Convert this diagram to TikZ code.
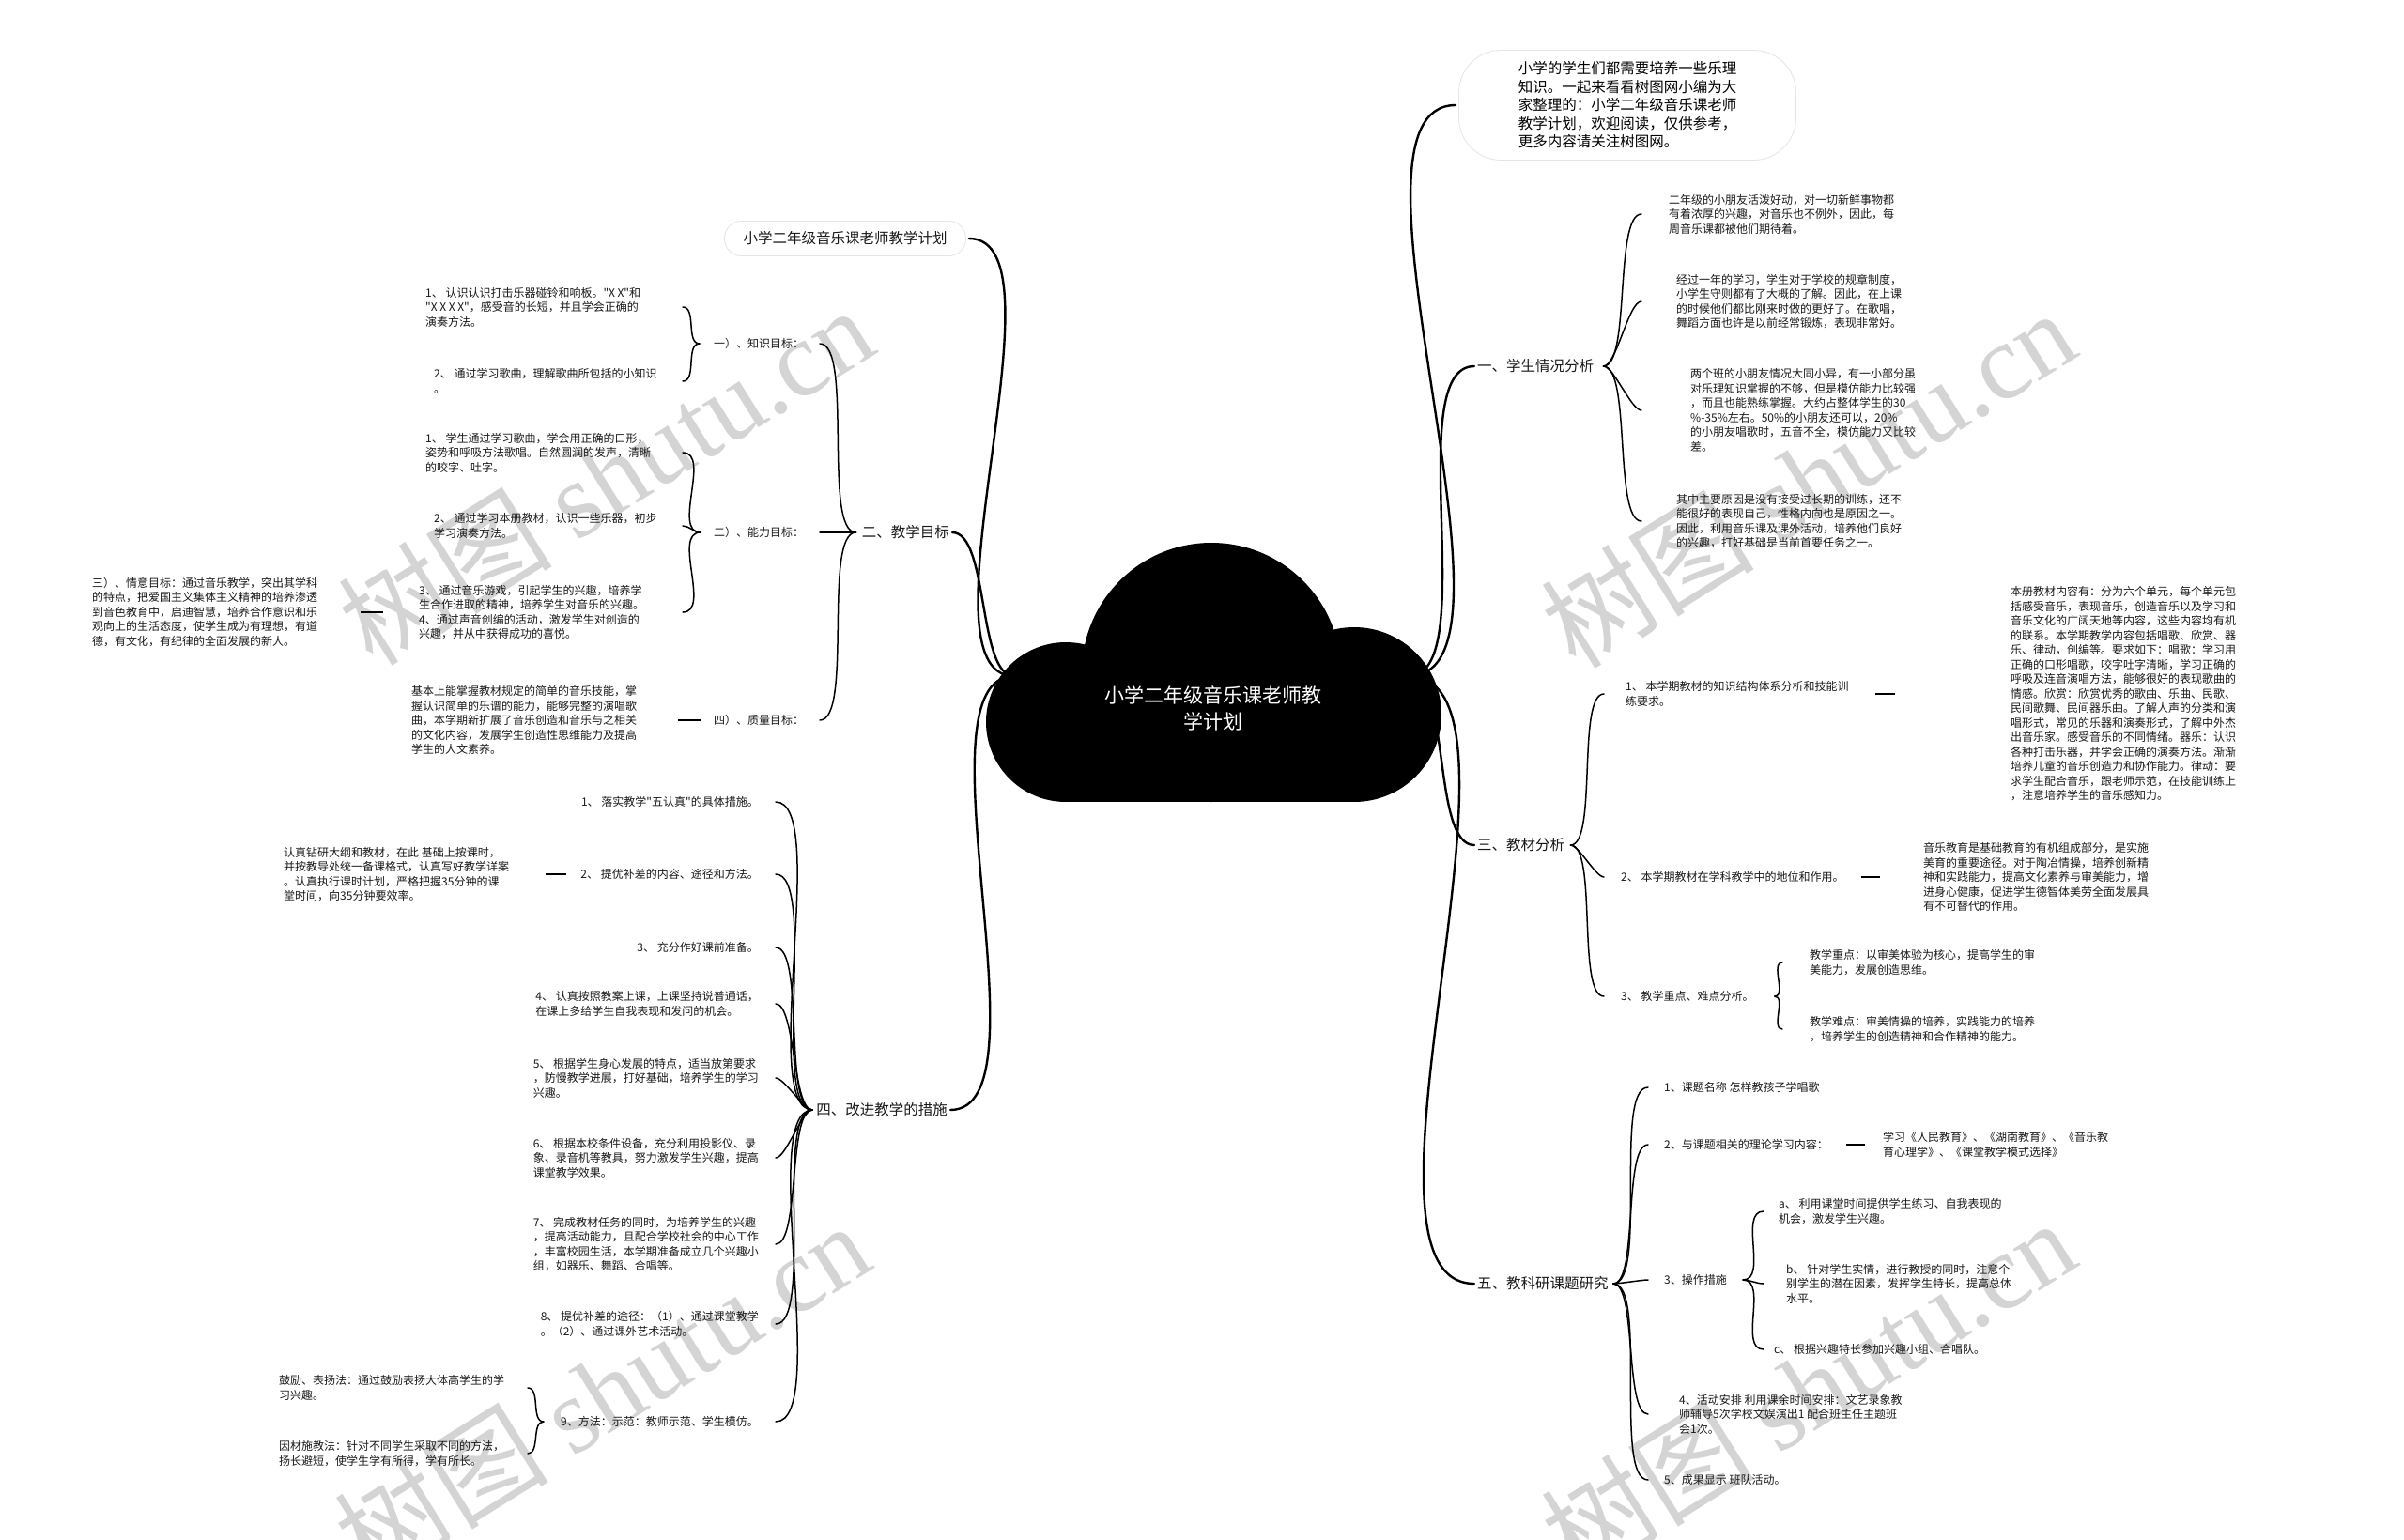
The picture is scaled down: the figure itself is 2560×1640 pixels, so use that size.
\documentclass[tikz,border=0pt]{standalone}
\usepackage{fontspec}
\setmainfont{Noto Sans CJK SC}[Ligatures=TeXOff]
\newfontfamily\wmfont{Liberation Serif}
\usetikzlibrary{calc}

\begin{document}
\begin{tikzpicture}[x=1pt, y=-1pt,
  leaf/.style={font=\fontsize{12}{15.5}\selectfont, align=left, inner sep=0pt, text=black!90},
  topic/.style={font=\fontsize{15.5}{19}\selectfont, inner sep=0pt, text=black!90},
  pill/.style={draw=black!10, line width=0.8pt, fill=white, rounded corners=18pt},
  trunk/.style={line width=2.4pt, line cap=round},
  twig/.style={line width=1.5pt, line cap=round},
  dashline/.style={line width=1.8pt},
  fanR/.style={out=0, in=180, looseness=0.45},
  fanL/.style={out=180, in=0, looseness=0.45},
  braceR/.style={out=0, in=180, looseness=0.9},
  braceL/.style={out=180, in=0, looseness=0.9},
  wm/.style={text=black!17, font=\fontsize{114}{114}\selectfont, rotate=32}]
  \useasboundingbox (0,0) rectangle (2560,1640);
  \fill[white] (0,0) rectangle (2560,1640);

  % Watermarks
  \foreach \x/\y [count=\i] in {645/506, 1925/509, 641/1481, 1925/1478}
    \node[wm] (wm\i) at (\x,\y) {树图 {\wmfont shutu.cn}};

  % Intro
  \node[pill, rounded corners=45pt, minimum width=359pt, minimum height=117pt,
        font=\fontsize{15.5}{19.5}\selectfont, align=left] (intro) at (1733,112)
        {小学的学生们都需要培养一些乐理\\知识。一起来看看树图网小编为大\\家整理的：小学二年级音乐课老师\\教学计划，欢迎阅读，仅供参考，\\更多内容请关注树图网。};

  % Right: students
  \node[topic, anchor=west] (t1) at (1573,390) {一、学生情况分析};
  \node[leaf, anchor=west] (s1a) at (1777,228) {二年级的小朋友活泼好动，对一切新鲜事物都\\有着浓厚的兴趣，对音乐也不例外，因此，每\\周音乐课都被他们期待着。};
  \node[leaf, anchor=west] (s1b) at (1785,321) {经过一年的学习，学生对于学校的规章制度，\\小学生守则都有了大概的了解。因此，在上课\\的时候他们都比刚来时做的更好了。在歌唱，\\舞蹈方面也许是以前经常锻炼，表现非常好。};
  \node[leaf, anchor=west] (s1c) at (1800,437) {两个班的小朋友情况大同小异，有一小部分虽\\对乐理知识掌握的不够，但是模仿能力比较强\\，而且也能熟练掌握。大约占整体学生的30\\\%-35\%左右。50\%的小朋友还可以，20\%\\的小朋友唱歌时，五音不全，模仿能力又比较\\差。};
  \node[leaf, anchor=west] (s1d) at (1785,555) {其中主要原因是没有接受过长期的训练，还不\\能很好的表现自己，性格内向也是原因之一。\\因此，利用音乐课及课外活动，培养他们良好\\的兴趣，打好基础是当前首要任务之一。};

  % Right: material
  \node[topic, anchor=west] (t3) at (1573,900) {三、教材分析};
  \node[leaf, anchor=west] (m1) at (1731,739) {1、 本学期教材的知识结构体系分析和技能训\\练要求。};
  \node[leaf, anchor=west] (m1l) at (2141,739) {本册教材内容有：分为六个单元，每个单元包\\括感受音乐，表现音乐，创造音乐以及学习和\\音乐文化的广阔天地等内容，这些内容均有机\\的联系。本学期教学内容包括唱歌、欣赏、器\\乐、律动，创编等。要求如下：唱歌：学习用\\正确的口形唱歌，咬字吐字清晰，学习正确的\\呼吸及连音演唱方法，能够很好的表现歌曲的\\情感。欣赏：欣赏优秀的歌曲、乐曲、民歌、\\民间歌舞、民间器乐曲。了解人声的分类和演\\唱形式，常见的乐器和演奏形式，了解中外杰\\出音乐家。感受音乐的不同情绪。器乐：认识\\各种打击乐器，并学会正确的演奏方法。渐渐\\培养儿童的音乐创造力和协作能力。律动：要\\求学生配合音乐，跟老师示范，在技能训练上\\，注意培养学生的音乐感知力。};
  \node[leaf, anchor=west] (m2) at (1726,934) {2、 本学期教材在学科教学中的地位和作用。};
  \node[leaf, anchor=west] (m2l) at (2048,934) {音乐教育是基础教育的有机组成部分，是实施\\美育的重要途径。对于陶冶情操，培养创新精\\神和实践能力，提高文化素养与审美能力，增\\进身心健康，促进学生德智体美劳全面发展具\\有不可替代的作用。};
  \node[leaf, anchor=west] (m3) at (1726,1061) {3、 教学重点、难点分析。};
  \node[leaf, anchor=west] (m3a) at (1927,1025) {教学重点：以审美体验为核心，提高学生的审\\美能力，发展创造思维。};
  \node[leaf, anchor=west] (m3b) at (1927,1096) {教学难点：审美情操的培养，实践能力的培养\\，培养学生的创造精神和合作精神的能力。};

  % Right: research
  \node[topic, anchor=west] (t5) at (1573,1367) {五、教科研课题研究};
  \node[leaf, anchor=west] (k1) at (1772,1158) {1、课题名称 怎样教孩子学唱歌};
  \node[leaf, anchor=west] (k2) at (1772,1219) {2、与课题相关的理论学习内容：};
  \node[leaf, anchor=west] (k2l) at (2005,1219) {学习《人民教育》、《湖南教育》、《音乐教\\育心理学》、《课堂教学模式选择》};
  \node[leaf, anchor=west] (k3) at (1772,1363) {3、操作措施};
  \node[leaf, anchor=west] (k3a) at (1894,1290) {a、 利用课堂时间提供学生练习、自我表现的\\机会，激发学生兴趣。};
  \node[leaf, anchor=west] (k3b) at (1902,1367) {b、 针对学生实情，进行教授的同时，注意个\\别学生的潜在因素，发挥学生特长，提高总体\\水平。};
  \node[leaf, anchor=west] (k3c) at (1889,1437) {c、 根据兴趣特长参加兴趣小组、合唱队。};
  \node[leaf, anchor=west] (k4) at (1788,1506) {4、活动安排 利用课余时间安排：文艺录象教\\师辅导5次学校文娱演出1 配合班主任主题班\\会1次。};
  \node[leaf, anchor=west] (k5) at (1772,1576) {5、成果显示 班队活动。};

  % Left: title
  \node[pill, topic, minimum width=257pt, minimum height=37pt] (title) at (900,254) {小学二年级音乐课老师教学计划};

  % Left: goals
  \node[topic, anchor=east] (t2) at (1011,567) {二、教学目标};
  \node[leaf, anchor=west] (g1) at (760,366) {一）、知识目标：};
  \node[leaf, anchor=west] (g2) at (760,567) {二）、能力目标：};
  \node[leaf, anchor=west] (g4) at (760,767) {四）、质量目标：};
  \node[leaf, anchor=west] (g1a) at (453,327) {1、 认识认识打击乐器碰铃和响板。"X X"和\\"X X X X"，感受音的长短，并且学会正确的\\演奏方法。};
  \node[leaf, anchor=west] (g1b) at (462,406) {2、 通过学习歌曲，理解歌曲所包括的小知识\\。};
  \node[leaf, anchor=west] (g2a) at (453,482) {1、 学生通过学习歌曲，学会用正确的口形，\\姿势和呼吸方法歌唱。自然圆润的发声，清晰\\的咬字、吐字。};
  \node[leaf, anchor=west] (g2b) at (462,560) {2、 通过学习本册教材，认识一些乐器，初步\\学习演奏方法。};
  \node[leaf, anchor=west] (g2c) at (446,652) {3、 通过音乐游戏，引起学生的兴趣，培养学\\生合作进取的精神，培养学生对音乐的兴趣。\\4、通过声音创编的活动，激发学生对创造的\\兴趣，并从中获得成功的喜悦。};
  \node[leaf, anchor=west] (g3) at (98,652) {三）、情意目标：通过音乐教学，突出其学科\\的特点，把爱国主义集体主义精神的培养渗透\\到音色教育中，启迪智慧，培养合作意识和乐\\观向上的生活态度，使学生成为有理想，有道\\德，有文化，有纪律的全面发展的新人。};
  \node[leaf, anchor=west] (g4l) at (438,767) {基本上能掌握教材规定的简单的音乐技能，掌\\握认识简单的乐谱的能力，能够完整的演唱歌\\曲，本学期新扩展了音乐创造和音乐与之相关\\的文化内容，发展学生创造性思维能力及提高\\学生的人文素养。};

  % Left: measures
  \node[topic, anchor=east] (t4) at (1009,1182) {四、改进教学的措施};
  \node[leaf, anchor=east] (h1) at (808,854) {1、 落实教学"五认真"的具体措施。};
  \node[leaf, anchor=east] (h2) at (808,931) {2、 提优补差的内容、途径和方法。};
  \node[leaf, anchor=east] (h3) at (808,1009) {3、 充分作好课前准备。};
  \node[leaf, anchor=east] (h4) at (808,1069) {4、 认真按照教案上课，上课坚持说普通话，\\在课上多给学生自我表现和发问的机会。};
  \node[leaf, anchor=east] (h5) at (808,1148) {5、 根据学生身心发展的特点，适当放第要求\\，防慢教学进展，打好基础，培养学生的学习\\兴趣。};
  \node[leaf, anchor=east] (h6) at (808,1233) {6、 根据本校条件设备，充分利用投影仪、录\\象、录音机等教具，努力激发学生兴趣，提高\\课堂教学效果。};
  \node[leaf, anchor=east] (h7) at (808,1325) {7、 完成教材任务的同时，为培养学生的兴趣\\，提高活动能力，且配合学校社会的中心工作\\，丰富校园生活，本学期准备成立几个兴趣小\\组，如器乐、舞蹈、合唱等。};
  \node[leaf, anchor=east] (h8) at (808,1410) {8、 提优补差的途径：（1）、通过课堂教学\\。（2）、通过课外艺术活动。};
  \node[leaf, anchor=east] (h9) at (808,1514) {9、方法：示范：教师示范、学生模仿。};
  \node[leaf, anchor=west] (h2l) at (302,931) {认真钻研大纲和教材，在此 基础上按课时，\\并按教导处统一备课格式，认真写好教学详案\\。认真执行课时计划，严格把握35分钟的课\\堂时间，向35分钟要效率。};
  \node[leaf, anchor=west] (h9a) at (297,1478) {鼓励、表扬法：通过鼓励表扬大体高学生的学\\习兴趣。};
  \node[leaf, anchor=west] (h9b) at (297,1548) {因材施教法：针对不同学生采取不同的方法，\\扬长避短，使学生学有所得，学有所长。};

  % Trunk
  \coordinate (rootL) at (1080,720);
  \coordinate (rootR) at (1500,720);
  \foreach \t in {intro,t1,t3,t5}
    \draw[trunk] (rootR) to[out=0, in=180, looseness=0.6] ([xshift=-3pt]\t.west);
  \foreach \t in {title,t2,t4}
    \draw[trunk] (rootL) to[out=180, in=0, looseness=0.6] ([xshift=3pt]\t.east);

  % Fans
  \coordinate (f1) at (1748,0);
  \coordinate (f3) at (1708,0);
  \coordinate (f5) at (1755,0);
  \coordinate (f2) at (873,0);
  \coordinate (f4) at (826,0);
  \foreach \c in {s1a,s1b,s1c,s1d}
    \draw[twig] ([xshift=10pt]t1.east) to[fanR] (f1 |- \c.west);
  \foreach \c in {m1,m2,m3}
    \draw[twig] ([xshift=6pt]t3.east) to[fanR] (f3 |- \c.west);
  \foreach \c in {k1,k2,k3,k4,k5}
    \draw[twig] ([xshift=5pt]t5.east) to[fanR] (f5 |- \c.west);
  \foreach \c in {g1,g2,g4}
    \draw[twig] ([xshift=-6pt]t2.west) to[fanL] (f2 |- \c.east);
  \foreach \c in {h1,h2,h3,h4,h5,h6,h7,h8,h9}
    \draw[twig] ([xshift=-4pt]t4.west) to[fanL] (f4 |- \c.east);

  % Braces
  \coordinate (b3) at (1898,0);
  \coordinate (b5) at (1878,0);
  \coordinate (bg) at (727,0);
  \coordinate (bh) at (562,0);
  \foreach \c in {m3a,m3b}
    \draw[twig] ([xshift=22pt]m3.east) to[braceR] (b3 |- \c.west);
  \foreach \c in {k3a,k3b,k3c}
    \draw[twig] ([xshift=17pt]k3.east) to[braceR] (b5 |- \c.west);
  \foreach \c in {g1a,g1b}
    \draw[twig] ([xshift=-15pt]g1.west) to[braceL] (bg |- \c.east);
  \foreach \c in {g2a,g2b,g2c}
    \draw[twig] ([xshift=-14pt]g2.west) to[braceL] (bg |- \c.east);
  \foreach \c in {h9a,h9b}
    \draw[twig] ([xshift=-18pt]h9.west) to[braceL] (bh |- \c.east);

  % Dashes
  \draw[dashline] ([xshift=28pt]m1.east) -- ([xshift=-123pt]m1l.west);
  \draw[dashline] ([xshift=18pt]m2.east) -- ([xshift=-46pt]m2l.west);
  \draw[dashline] ([xshift=19pt]k2.east) -- ([xshift=-19pt]k2l.west);
  \draw[dashline] ([xshift=-38pt]g2c.west) -- ([xshift=46pt]g2c.west -| g3.east);
  \draw[dashline] ([xshift=-14pt]g4.west) -- ([xshift=44pt]g4l.east);
  \draw[dashline] ([xshift=-15pt]h2.west) -- ([xshift=39pt]h2l.east);

  % Cloud
  \fill[black] (1135,769) circle (85pt);
  \fill[black] (1290,716) circle (138pt);
  \fill[black] (1442,761) circle (93pt);
  \fill[black] (1135,760) rectangle (1442,854);
  \node[text=white, font=\fontsize{21}{28}\selectfont, align=center] (root) at (1292,754)
        {小学二年级音乐课老师教\\学计划};
\end{tikzpicture}
\end{document}
